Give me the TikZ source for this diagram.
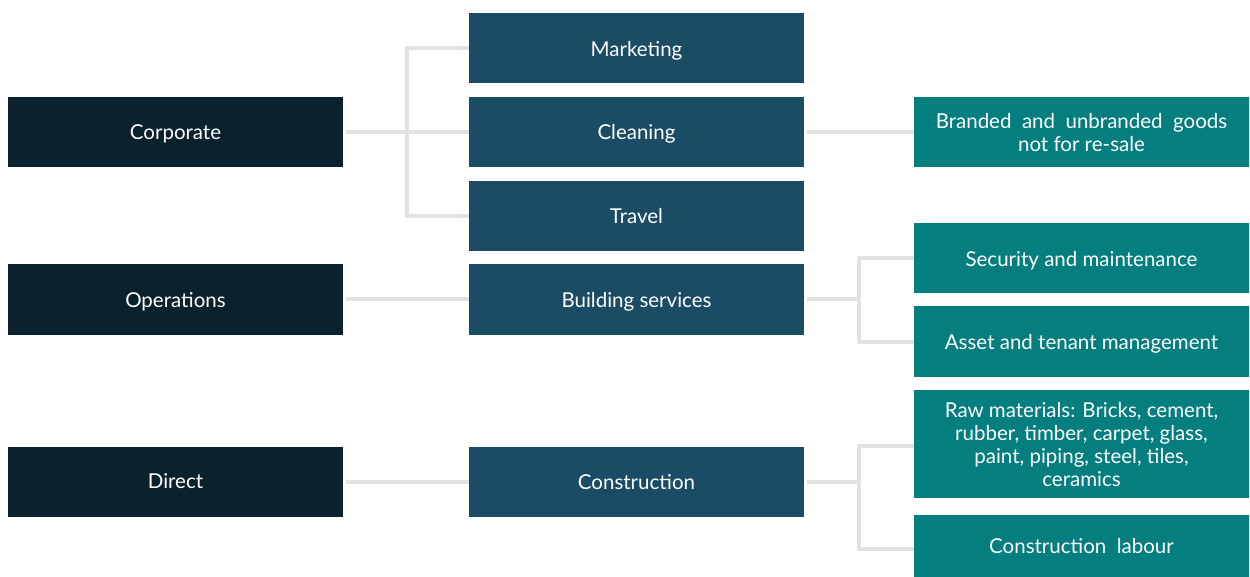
\documentclass[tikz,border=0pt]{standalone}
\usepackage{fontspec}
\setmainfont{Lato}
\usetikzlibrary{positioning}

\definecolor{rootcol}{HTML}{0A212E}
\definecolor{areacol}{HTML}{1B4C66}
\definecolor{itemcol}{HTML}{057E80}
\definecolor{linkcol}{HTML}{E2E2E2}

\tikzset{
	box/.style={minimum width=335pt, minimum height=70pt, inner sep=0pt, align=center, text depth=0pt, text=white, font=\fontsize{20.5}{23}\selectfont},
	rootbox/.style={box, fill=rootcol},
	areabox/.style={box, fill=areacol},
	itembox/.style={box, fill=itemcol},
	link/.style={draw=linkcol, line width=4pt}
}

\begin{document}
\begin{tikzpicture}[x=1pt,y=-1pt]

		\useasboundingbox (0,0) rectangle (1250,577);

		\def \xa {175.5};
		\def \xb {636.5};
		\def \xc {1081.5};

		% first column
		\node (corp) at (\xa,132) [rootbox] {Corporate};
		\node (oper) at (\xa,299.5) [rootbox] {Operations};
		\node (dir) at (\xa,481.5) [rootbox] {Direct};

		% second column
		\node (mkt) at (\xb,48.5) [areabox] {Marketing};
		\node (cln) at (\xb,132) [areabox] {Cleaning};
		\node (trv) at (\xb,216) [areabox] {Travel};
		\node (bld) at (\xb,299.5) [areabox] {Building\ services};
		\node (cons) at (\xb,481.5) [areabox] {Construction};

		% third column
		\node (goods) at (\xc,132) [itembox] {Branded\ \ and\ \ unbranded\ \ goods\\not for re-sale};
		\node (sec) at (\xc,258.5) [itembox] {Security and maintenance};
		\node (asset) at (\xc,341.5) [itembox] {Asset and tenant management};
		\node (raw) at (\xc,444) [itembox, minimum height=108pt] {Raw materials: Bricks, cement,\\rubber, timber, carpet, glass,\\paint, piping, steel, tiles,\\ceramics};
		\node (lab) at (\xc,546) [itembox, minimum height=62pt] {Construction\ \ labour};

		% links
		\coordinate (ja) at (407,132);
		\draw [link] (corp.east) ++(3,0) -- (ja);
		\foreach \n in {mkt,cln,trv} {
		    \draw [link, line join=round] (ja) |- (\n.west);
		}
		\draw [link] (cln.east) ++(3,0) -- (goods.west);
		\draw [link] (oper.east) ++(3,0) -- (bld.west);
		\draw [link] (dir.east) ++(3,0) -- (cons.west);

		\coordinate (jb) at (859,299.5);
		\draw [link] (bld.east) ++(3,0) -- (jb);
		\foreach \n in {sec,asset} {
		    \draw [link, line join=round] (jb) |- (\n.west);
		}

		\coordinate (jc) at (859,481.5);
		\draw [link] (cons.east) ++(3,0) -- (jc);
		\draw [link, line join=round] (jc) |- ([yshift=-2pt]raw.west);
		\draw [link, line join=round] (jc) |- ([yshift=-3pt]lab.west);

\end{tikzpicture}
\end{document}
